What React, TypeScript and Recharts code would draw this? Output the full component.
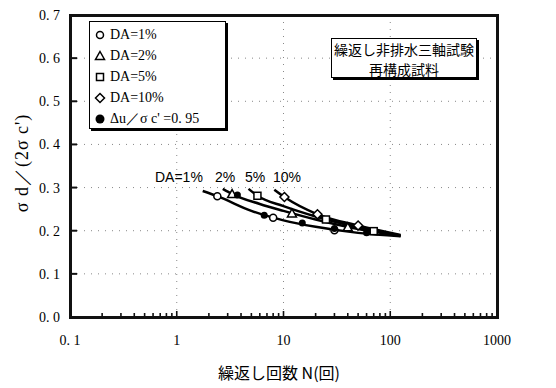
import React from 'react';
import { ComposedChart, Line, Scatter, XAxis, YAxis, CartesianGrid } from 'recharts';

// cycles N (log axis) vs stress ratio
const xTicks = [
  0.1, 0.2, 0.3, 0.4, 0.5, 0.6, 0.7, 0.8, 0.9,
  1, 2, 3, 4, 5, 6, 7, 8, 9,
  10, 20, 30, 40, 50, 60, 70, 80, 90,
  100, 200, 300, 400, 500, 600, 700, 800, 900,
  1000,
];
const xMajor = [0.1, 1, 10, 100, 1000];
const xLabels = ['0. 1', '1', '10', '100', '1000'];
const yTicks = [0, 0.1, 0.2, 0.3, 0.4, 0.5, 0.6, 0.7];
const yLabels = ['0. 0', '0. 1', '0. 2', '0. 3', '0. 4', '0. 5', '0. 6', '0. 7'];

// trend lines
const da1Line = [
  { n: 1.75, v: 0.292 }, { n: 2.4, v: 0.28 }, { n: 5, v: 0.246 }, { n: 10, v: 0.224 },
  { n: 20, v: 0.209 }, { n: 50, v: 0.195 }, { n: 125, v: 0.187 },
];
const da2Line = [
  { n: 2.7, v: 0.297 }, { n: 3.3, v: 0.285 }, { n: 6, v: 0.262 }, { n: 10, v: 0.246 },
  { n: 20, v: 0.226 }, { n: 50, v: 0.204 }, { n: 125, v: 0.188 },
];
const da5Line = [
  { n: 4.7, v: 0.297 }, { n: 5.7, v: 0.281 }, { n: 10, v: 0.257 }, { n: 20, v: 0.233 },
  { n: 50, v: 0.208 }, { n: 125, v: 0.189 },
];
const da10Line = [
  { n: 8.2, v: 0.295 }, { n: 10.2, v: 0.278 }, { n: 20.8, v: 0.238 }, { n: 50, v: 0.212 },
  { n: 125, v: 0.19 },
];

// measured points
const da1Pts = [{ n: 2.4, v: 0.28 }, { n: 8, v: 0.23 }, { n: 30, v: 0.201 }];
const da2Pts = [{ n: 3.3, v: 0.285 }, { n: 12, v: 0.24 }, { n: 40, v: 0.208 }];
const da5Pts = [{ n: 5.7, v: 0.281 }, { n: 25, v: 0.226 }, { n: 70, v: 0.199 }];
const da10Pts = [{ n: 10.2, v: 0.278 }, { n: 20.8, v: 0.238 }, { n: 50, v: 0.212 }];
const duPts = [
  { n: 3.7, v: 0.283 }, { n: 6.6, v: 0.236 }, { n: 15, v: 0.218 }, { n: 30, v: 0.205 },
  { n: 60, v: 0.195 },
];

const W = 556;
const H = 388;
const ink = '#111';
const serif = '"Liberation Serif", "DejaVu Serif", serif';
const jp = '"Noto Sans CJK JP", sans-serif';
const sans = '"Liberation Sans", Arial, sans-serif';

// tick x/y arrive at the axis line (tickSize/tickMargin = 0)
const XTick = (p: any) => {
  const i = xMajor.indexOf(p.payload.value);
  return (
    <g>
      <line x1={p.x} x2={p.x} y1={p.y - 1} y2={p.y - (i >= 0 ? 6 : 4)} stroke={ink} strokeWidth={1.6} />
      {i >= 0 && (
        <text x={p.x} y={p.y + 28} textAnchor="middle" fontFamily={serif} fontSize={14} fill="#000">
          {xLabels[i]}
        </text>
      )}
    </g>
  );
};

const YTick = (p: any) => {
  const i = yTicks.indexOf(p.payload.value);
  return (
    <g>
      <line x1={p.x + 1} x2={p.x + 7} y1={p.y} y2={p.y} stroke={ink} strokeWidth={2} />
      <text x={p.x - 10} y={p.y + 5} textAnchor="end" fontFamily={serif} fontSize={14} fill="#000">
        {yLabels[i]}
      </text>
    </g>
  );
};

const Circle = (p: any) => <circle cx={p.cx} cy={p.cy} r={3.5} fill="#fff" stroke="#000" strokeWidth={1.5} />;
const Dot = (p: any) => <circle cx={p.cx} cy={p.cy} r={3.5} fill="#000" />;
const Tri = (p: any) => (
  <path d={`M${p.cx},${p.cy - 4.5}L${p.cx + 4.5},${p.cy + 3.5}L${p.cx - 4.5},${p.cy + 3.5}Z`} fill="#fff" stroke="#000" strokeWidth={1.5} />
);
const Sq = (p: any) => <rect x={p.cx - 3.5} y={p.cy - 3.5} width={7} height={7} fill="#fff" stroke="#000" strokeWidth={1.5} />;
const Dia = (p: any) => (
  <path d={`M${p.cx},${p.cy - 4.5}L${p.cx + 4.5},${p.cy}L${p.cx},${p.cy + 4.5}L${p.cx - 4.5},${p.cy}Z`} fill="#fff" stroke="#000" strokeWidth={1.5} />
);

const legendRows = [
  { k: 'c', t: 'DA=1%' },
  { k: 't', t: 'DA=2%' },
  { k: 's', t: 'DA=5%' },
  { k: 'd', t: 'DA=10%' },
  { k: 'f', t: "Δu／σ c' =0. 95" },
];

const LegendMark = ({ k }: { k: string }) => {
  const c = { cx: 7, cy: 7 };
  return (
    <svg width={14} height={14} style={{ marginRight: 3 }}>
      {k === 'c' && <Circle {...c} />}
      {k === 't' && <Tri {...c} />}
      {k === 's' && <Sq {...c} />}
      {k === 'd' && <Dia {...c} />}
      {k === 'f' && <circle cx={7} cy={7} r={4.5} fill="#000" />}
    </svg>
  );
};

export default function App() {
  const lineProps = { type: 'monotone' as const, dataKey: 'v', stroke: '#000', strokeWidth: 2.5, dot: false, isAnimationActive: false };
  return (
    <div style={{ position: 'absolute', left: 0, top: 0, width: W, height: H, background: '#fff' }}>
      <ComposedChart width={W} height={H} margin={{ top: 15, right: 59, bottom: 41, left: 10 }}>
        <CartesianGrid
          stroke="#888" strokeDasharray="1 6"
          verticalValues={[1, 10, 100]} horizontalValues={[0.1, 0.2, 0.3, 0.4, 0.5, 0.6]}
        />
        <XAxis
          dataKey="n" type="number" scale="log" domain={[0.1, 1000]} ticks={xTicks} interval={0}
          allowDataOverflow axisLine={false} tickLine={false} tickSize={0} tickMargin={0}
          tick={<XTick />} height={30}
        />
        <YAxis
          dataKey="v" type="number" domain={[0, 0.7]} ticks={yTicks} interval={0}
          axisLine={false} tickLine={false} tickSize={0} tickMargin={0}
          tick={<YTick />} width={60}
        />
        <Line data={da1Line} {...lineProps} />
        <Line data={da2Line} {...lineProps} />
        <Line data={da5Line} {...lineProps} />
        <Line data={da10Line} {...lineProps} />
        <Scatter data={da1Pts} shape={<Circle />} isAnimationActive={false} />
        <Scatter data={da2Pts} shape={<Tri />} isAnimationActive={false} />
        <Scatter data={da5Pts} shape={<Sq />} isAnimationActive={false} />
        <Scatter data={da10Pts} shape={<Dia />} isAnimationActive={false} />
        <Scatter data={duPts} shape={<Dot />} isAnimationActive={false} />
      </ComposedChart>

      {/* plot frame */}
      <div
        style={{
          position: 'absolute', left: 69, top: 14, width: 430, height: 305,
          border: `3px solid ${ink}`, boxSizing: 'border-box', pointerEvents: 'none',
        }}
      />

      {/* legend */}
      <div
        style={{
          position: 'absolute', left: 89, top: 21, width: 137, height: 108, border: '1px solid #000',
          boxShadow: '2px 2px 0 #000', background: '#fff', fontFamily: serif, fontSize: 14, lineHeight: '21px',
          paddingTop: 2, boxSizing: 'border-box', paddingLeft: 3,
        }}
      >
        {legendRows.map((r) => (
          <div key={r.t} style={{ display: 'flex', alignItems: 'center', height: 21 }}>
            <LegendMark k={r.k} />
            <span>{r.t}</span>
          </div>
        ))}
      </div>

      {/* condition box */}
      <div
        style={{
          position: 'absolute', left: 331, top: 38, width: 146, height: 40, border: '1px solid #000',
          boxShadow: '2px 2px 0 #000', background: '#fff', fontFamily: jp, fontSize: 14, lineHeight: '20px',
          textAlign: 'center', boxSizing: 'border-box', whiteSpace: 'nowrap',
        }}
      >
        <div>繰返し非排水三軸試験</div>
        <div>再構成試料</div>
      </div>

      {/* DA labels */}
      <div style={{ position: 'absolute', left: 155, top: 169, fontFamily: sans, fontSize: 14 }}>DA=1%</div>
      <div style={{ position: 'absolute', left: 215, top: 169, fontFamily: sans, fontSize: 14 }}>2%</div>
      <div style={{ position: 'absolute', left: 245, top: 169, fontFamily: sans, fontSize: 14 }}>5%</div>
      <div style={{ position: 'absolute', left: 273, top: 169, fontFamily: sans, fontSize: 14 }}>10%</div>

      {/* axis titles */}
      <div
        style={{
          position: 'absolute', left: 22, top: 163, transform: 'translate(-50%, -50%) rotate(-90deg)',
          fontFamily: serif, fontSize: 18, whiteSpace: 'nowrap', letterSpacing: 1,
        }}
      >
        σ d／(2σ c')
      </div>
      <div
        style={{
          position: 'absolute', left: 279, top: 372, transform: 'translate(-50%, -50%)',
          fontFamily: jp, fontSize: 16, whiteSpace: 'nowrap',
        }}
      >
        繰返し回数 N(回)
      </div>
    </div>
  );
}
